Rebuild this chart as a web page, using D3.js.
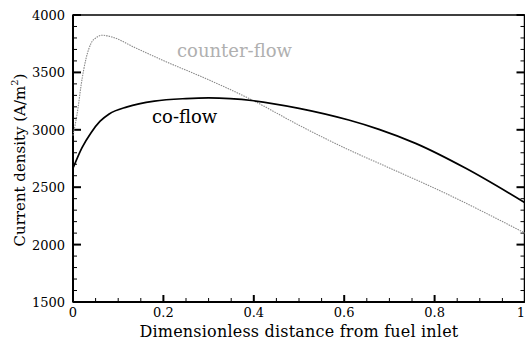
<!DOCTYPE html>
<html>
<head>
<meta charset="utf-8">
<script src="https://cdn.jsdelivr.net/npm/d3@7"></script>
<style>
  html, body { margin: 0; padding: 0; background: #fff; }
  svg { display: block; }
  svg text { font-family: 'DejaVu Serif', serif; }
</style>
</head>
<body>
<div id="chart"><svg></svg></div>
<script>
// values
const coFlowX = [0, 0.02, 0.04, 0.06, 0.08, 0.12, 0.18, 0.25, 0.30, 0.40, 0.50, 0.61, 0.677, 0.758, 0.868, 1.0]
const coFlowY = [2665, 2845, 2975, 3075, 3138, 3200, 3250, 3272, 3278, 3253, 3187, 3085, 3004, 2882, 2667, 2365]

const counterFlowX = [0, 0.011, 0.018, 0.029, 0.040, 0.052, 0.065, 0.084, 0.14, 0.214, 0.28, 0.40, 0.50, 0.611, 0.677, 0.824, 1.0]
const counterFlowY = [2950, 3187, 3390, 3623, 3753, 3805, 3824, 3811, 3710, 3579, 3470, 3252, 3040, 2824, 2708, 2447, 2100]

const xTicks = [0, 0.2, 0.4, 0.6, 0.8, 1]
const xTickLabels = ['0', '0.2', '0.4', '0.6', '0.8', '1']
const yTicks = [1500, 2000, 2500, 3000, 3500, 4000]

const WIDTH = 525, HEIGHT = 342
const MARGIN = { top: 15, right: 0, bottom: 40, left: 73 }

const $svg = d3.select('#chart svg')
  .attr('width', WIDTH)
  .attr('height', HEIGHT)

const xScale = d3.scaleLinear()
  .domain([0, 1])
  .range([MARGIN.left, WIDTH - MARGIN.right])
const yScale = d3.scaleLinear()
  .domain([1500, 4000])
  .range([HEIGHT - MARGIN.bottom, MARGIN.top])

const x0 = xScale.range()[0], x1 = xScale.range()[1] - 0.5
const y0 = yScale.range()[0], y1 = yScale.range()[1]

function drawAxes(){
  const minorX = d3.range(0, 1.0001, 0.05)
  const minorY = d3.range(1500, 4001, 100)

  // bottom ticks, pointing in
  $svg.append('g')
    .selectAll('line')
    .data(minorX)
    .enter()
    .append('line')
      .attr('x1', d => xScale(d))
      .attr('x2', d => xScale(d))
      .attr('y1', y0)
      .attr('y2', (d, i) => y0 - (i % 4 === 0 ? 7 : 4))
      .attr('stroke', '#000')
      .attr('stroke-width', (d, i) => i % 4 === 0 ? 2 : 1)

  // left and right ticks
  const $yt = $svg.append('g')
  $yt.selectAll('.tick-left')
    .data(minorY)
    .enter()
    .append('line')
      .attr('class', 'tick-left')
      .attr('x1', x0)
      .attr('x2', (d, i) => x0 + (i % 5 === 0 ? 8 : 4))
      .attr('y1', d => yScale(d))
      .attr('y2', d => yScale(d))
      .attr('stroke', '#000')
      .attr('stroke-width', (d, i) => i % 5 === 0 ? 2 : 1)
  $yt.selectAll('.tick-right')
    .data(minorY)
    .enter()
    .append('line')
      .attr('class', 'tick-right')
      .attr('x1', x1)
      .attr('x2', (d, i) => x1 - (i % 5 === 0 ? 8 : 4))
      .attr('y1', d => yScale(d))
      .attr('y2', d => yScale(d))
      .attr('stroke', '#000')
      .attr('stroke-width', (d, i) => i % 5 === 0 ? 2 : 1)

  // frame
  $svg.append('rect')
    .attr('x', x0)
    .attr('y', y1)
    .attr('width', x1 - x0)
    .attr('height', y0 - y1)
    .attr('fill', 'none')
    .attr('stroke', '#000')
    .attr('stroke-width', 1.5)
  $svg.append('line')
    .attr('x1', x0).attr('x2', x0)
    .attr('y1', y1).attr('y2', y0)
    .attr('stroke', '#000').attr('stroke-width', 2)
  $svg.append('line')
    .attr('x1', x0).attr('x2', x1)
    .attr('y1', y0).attr('y2', y0)
    .attr('stroke', '#000').attr('stroke-width', 2)

  // tick labels
  $svg.selectAll('.x-label')
    .data(xTicks)
    .enter()
    .append('text')
      .attr('class', 'x-label')
      .attr('x', d => d === 1 ? WIDTH : xScale(d))
      .attr('y', y0 + 15)
      .attr('text-anchor', d => d === 1 ? 'end' : 'middle')
      .attr('font-size', 13)
      .text((d, i) => xTickLabels[i])
  $svg.selectAll('.y-label')
    .data(yTicks)
    .enter()
    .append('text')
      .attr('class', 'y-label')
      .attr('x', x0 - 8)
      .attr('y', d => yScale(d) + 5)
      .attr('text-anchor', 'end')
      .attr('font-size', 13)
      .text(d => d)

  // axis titles
  $svg.append('text')
    .attr('x', 299)
    .attr('y', 337)
    .attr('text-anchor', 'middle')
    .attr('font-size', 16)
    .attr('letter-spacing', 0.2)
    .text('Dimensionless distance from fuel inlet')
  const $yTitle = $svg.append('text')
    .attr('transform', `translate(25, 160) rotate(-90)`)
    .attr('text-anchor', 'middle')
    .attr('font-size', 15)
  $yTitle.append('tspan').text('Current density (A/m')
  $yTitle.append('tspan').attr('font-size', 10).attr('dy', -7).text('2')
  $yTitle.append('tspan').attr('dy', 7).text(')')
}

function drawLines(){
  const line = d3.line()
    .x(d => xScale(d[0]))
    .y(d => yScale(d[1]))
    .curve(d3.curveMonotoneX)

  const counterData = counterFlowX.map((x, i) => [x, counterFlowY[i]])
  const coData = coFlowX.map((x, i) => [x, coFlowY[i]])

  $svg.append('path')
    .datum(counterData)
    .attr('d', line)
    .attr('fill', 'none')
    .attr('stroke', '#8a8a8a')
    .attr('stroke-width', 1.1)
    .attr('stroke-dasharray', '1.5,1')
  $svg.append('path')
    .datum(coData)
    .attr('d', line)
    .attr('fill', 'none')
    .attr('stroke', '#000')
    .attr('stroke-width', 1.7)

  $svg.append('text')
    .attr('x', 177)
    .attr('y', 57)
    .attr('font-size', 18)
    .attr('fill', '#b0b0b0')
    .text('counter-flow')
  $svg.append('text')
    .attr('x', 152)
    .attr('y', 123)
    .attr('font-size', 18)
    .attr('fill', '#000')
    .text('co-flow')
}

function init(){
  drawAxes()
  drawLines()
}

init()
</script>
</body>
</html>
